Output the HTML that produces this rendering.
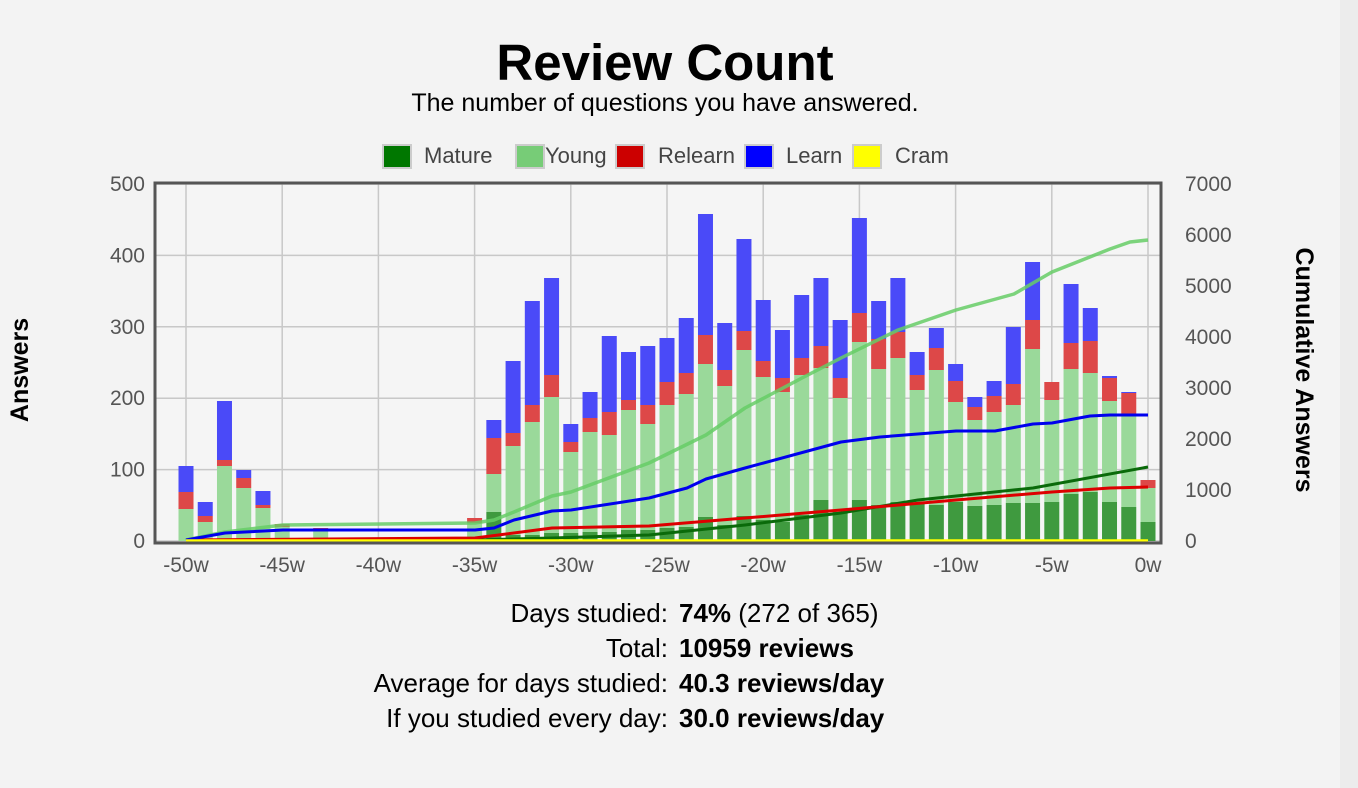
<!DOCTYPE html>
<html><head><meta charset="utf-8">
<style>
html,body{margin:0;padding:0;background:#f3f3f3;width:1358px;height:788px;overflow:hidden;font-family:"Liberation Sans",Arial,sans-serif;}
svg{position:absolute;left:0;top:0}
</style></head><body>
<svg id="s" width="1358" height="788" xmlns="http://www.w3.org/2000/svg">
<rect x="0" y="0" width="1358" height="788" fill="#f3f3f3"/>
<rect x="1340" y="0" width="18" height="788" fill="#ececec"/>
<text x="665" y="80" text-anchor="middle" font-size="51" font-weight="bold" fill="#000">Review Count</text>
<text x="665" y="111" text-anchor="middle" font-size="25" fill="#000">The number of questions you have answered.</text>
<g font-size="22" fill="#444">
<rect x="383" y="145" width="28" height="23" fill="#007700" stroke="#ccc" stroke-width="2"/><text x="424" y="163">Mature</text>
<rect x="516" y="145" width="28" height="23" fill="#77cc77" stroke="#ccc" stroke-width="2"/><text x="545" y="163">Young</text>
<rect x="616" y="145" width="28" height="23" fill="#cc0000" stroke="#ccc" stroke-width="2"/><text x="658" y="163">Relearn</text>
<rect x="745" y="145" width="28" height="23" fill="#0000ff" stroke="#ccc" stroke-width="2"/><text x="786" y="163">Learn</text>
<rect x="853" y="145" width="28" height="23" fill="#ffff00" stroke="#ccc" stroke-width="2"/><text x="895" y="163">Cram</text>
</g>
<rect x="155" y="183" width="1006" height="360" fill="#f5f5f5"/>
<g id="grid" stroke="#c8c8c8" stroke-width="1.5"></g>
<g id="bars"></g>
<g id="lines" fill="none" stroke-linejoin="round"></g>
<rect x="155" y="183" width="1006" height="360" fill="none" stroke="#555" stroke-width="3"/>
<g id="labels" font-size="21" fill="#555"></g>
<text transform="translate(28,370) rotate(-90)" text-anchor="middle" font-size="25" font-weight="bold" fill="#000">Answers</text>
<text transform="translate(1296,370) rotate(90)" text-anchor="middle" font-size="25" font-weight="bold" fill="#000">Cumulative Answers</text>
<g font-size="26" fill="#000">
<text x="668" y="622" text-anchor="end">Days studied:</text><text x="679" y="622"><tspan font-weight="bold">74%</tspan> (272 of 365)</text>
<text x="668" y="657" text-anchor="end">Total:</text><text x="679" y="657" font-weight="bold">10959 reviews</text>
<text x="668" y="692" text-anchor="end">Average for days studied:</text><text x="679" y="692" font-weight="bold">40.3 reviews/day</text>
<text x="668" y="727" text-anchor="end">If you studied every day:</text><text x="679" y="727" font-weight="bold">30.0 reviews/day</text>
</g>
</svg>
<script>
var NS="http://www.w3.org/2000/svg";
function el(p,t,a,txt){var e=document.createElementNS(NS,t);for(var k in a)e.setAttribute(k,a[k]);if(txt!==undefined)e.textContent=txt;document.getElementById(p).appendChild(e);return e;}
function X(w){return 186+(50+w)*19.24;}
for(var i=0;i<=5;i++){var y=541-i*71.4;el("grid","line",{x1:156,x2:1160,y1:y,y2:y});el("labels","text",{x:145,y:y+7,"text-anchor":"end"},String(i*100));}
for(var i=0;i<=7;i++){var y=541-i*51;el("labels","text",{x:1185,y:y+7},String(i*1000));}
for(var w=-50;w<=0;w+=5){var x=X(w);el("grid","line",{x1:x,x2:x,y1:184,y2:542});el("labels","text",{x:x,y:572,"text-anchor":"middle"},w+"w");}
var B=[[-50,541,509,492,466],[-49,541,522,516,502],[-48,541,466,460,401],[-47,541,488,478,470],[-46,541,508,505,491],[-45,541,527,524,524],[-43,541,531,528,528],
[-35,541,523,518,518],[-34,512,474,438,420],[-33,535,446,433,361],[-32,535,422,405,301],[-31,533,397,375,278],[-30,533,452,442,424],[-29,532,432,418,392],[-28,532,435,412,336],[-27,530,410,400,352],[-26,530,424,405,346],
[-25,528,405,382,338],[-24,527,394,373,318],[-23,517,364,335,214],[-22,525,386,370,323],[-21,516,350,331,239],[-20,520,377,361,300],[-19,522,392,378,330],[-18,515,375,358,295],[-17,500,368,346,278],[-16,512,398,378,320],
[-15,500,342,313,218],[-14,505,369,339,301],[-13,502,358,332,278],[-12,503,390,375,352],[-11,505,370,348,328],[-10,502,402,381,364],[-9,506,420,407,397],[-8,505,412,396,381],[-7,503,405,384,327],[-6,503,349,320,262],
[-5,502,400,382,382],[-4,494,369,343,284],[-3,492,373,341,308],[-2,502,401,378,376],[-1,507,415,393,392],[0,522,488,480,480]];
B.forEach(function(b){var x=X(b[0])-7.5,w=15;
 if(b[4]<b[3])el("bars","rect",{x:x,y:b[4],width:w,height:b[3]-b[4],fill:"#4a4af8"});
 if(b[3]<b[2])el("bars","rect",{x:x,y:b[3],width:w,height:b[2]-b[3],fill:"#dd4848"});
 if(b[2]<b[1])el("bars","rect",{x:x,y:b[2],width:w,height:b[1]-b[2],fill:"#9ad99a"});
 if(b[1]<541)el("bars","rect",{x:x,y:b[1],width:w,height:541-b[1],fill:"#3f9a3f"});
});
function line(pts,c,wd,op){el("lines","polyline",{points:pts.map(function(p){return p[0]+","+p[1]}).join(" "),stroke:c,"stroke-width":wd,opacity:op||1});}
line([[186,540],[225,532],[283,525],[475,523],[494,520],[514,512],[552,496],[571,492],[649,463],[706,435],[745,408],[802,378],[841,358],[898,330],[956,310],[1014,294],[1052,272],[1110,249],[1130,242],[1148,240]],"#66cc66",3.5,0.85);
line([[186,540],[475,540],[552,538],[649,535],[745,525],[841,513],[918,500],[1033,488],[1148,467]],"#0a6a0a",3);
line([[186,540],[475,538],[552,528],[649,526],[745,518],[841,510],[956,500],[1052,492],[1110,488],[1148,487]],"#dd0000",3);
line([[186,540],[225,533],[283,530],[475,530],[494,528],[514,520],[552,511],[571,510],[649,498],[687,488],[706,479],[745,468],[841,442],[880,437],[956,431],[995,431],[1033,424],[1052,423],[1090,416],[1110,415],[1148,415]],"#0000ee",3);
line([[186,541],[1148,541]],"#ffff00",3.5);
</script>
</body></html>
